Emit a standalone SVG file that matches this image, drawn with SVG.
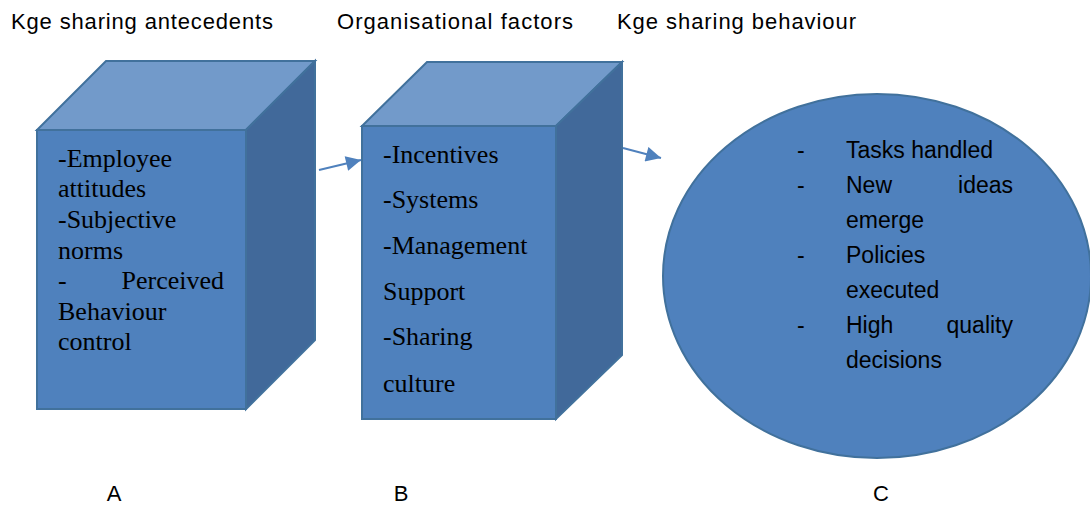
<svg xmlns="http://www.w3.org/2000/svg" width="1090" height="506" viewBox="0 0 1090 506">
<defs>
<style>
.front{fill:#4F81BD;stroke:#41719C;stroke-width:2}
.top{fill:#729ACA;stroke:#41719C;stroke-width:2}
.side{fill:#41699A;stroke:#41719C;stroke-width:2}
.serif{font-family:"Liberation Serif","Times New Roman",serif;font-size:26px;fill:#000}
.sans{font-family:"Liberation Sans",Arial,sans-serif;fill:#000}
.hdr{font-size:22px}
.lbl{font-size:22px}
.circ{font-size:23px}
.conn{stroke:#4F81BD;stroke-width:2;fill:none;marker-end:url(#ah)}
</style>
<marker id="ah" viewBox="0 0 10 10" refX="10" refY="5" markerWidth="9" markerHeight="7.5" markerUnits="strokeWidth" orient="auto">
<path d="M0,0 L10,5 L0,10 z" fill="#4F81BD"/>
</marker>
</defs>
<rect width="1090" height="506" fill="#fff"/>
<g id="headers" class="sans hdr">
<text x="11" y="29" textLength="262">Kge sharing antecedents</text>
<text x="337" y="29" textLength="236">Organisational factors</text>
<text x="617" y="29" textLength="239">Kge sharing behaviour</text>
</g>
<g id="nodeA">
<polygon class="top" points="37,130 106,61 315,61 246,130"/>
<polygon class="side" points="246,130 315,61 315,340 246,409"/>
<rect class="front" x="37" y="130" width="209" height="279"/>
<g class="serif">
<text x="58" y="167">-Employee</text>
<text x="58" y="197">attitudes</text>
<text x="58" y="228">-Subjective</text>
<text x="58" y="259">norms</text>
<text x="58" y="289">-</text>
<text x="224" y="289" text-anchor="end">Perceived</text>
<text x="58" y="320">Behaviour</text>
<text x="58" y="350">control</text>
</g>
</g>
<g id="nodeB">
<polygon class="top" points="362,126 427,62 622,62 556,126"/>
<polygon class="side" points="556,126 622,62 622,355 556,419"/>
<rect class="front" x="362" y="126" width="194" height="293"/>
<g class="serif">
<text x="383" y="163">-Incentives</text>
<text x="383" y="208">-Systems</text>
<text x="383" y="254">-Management</text>
<text x="383" y="300">Support</text>
<text x="383" y="345">-Sharing</text>
<text x="383" y="392">culture</text>
</g>
</g>
<g id="nodeC">
<ellipse cx="877" cy="276" rx="214" ry="182" fill="#4F81BD" stroke="#41719C" stroke-width="2"/>
<g class="sans circ">
<text x="797" y="158">-</text>
<text x="846" y="158">Tasks handled</text>
<text x="797" y="193">-</text>
<text x="846" y="193">New</text>
<text x="1013" y="193" text-anchor="end">ideas</text>
<text x="846" y="228">emerge</text>
<text x="797" y="263">-</text>
<text x="846" y="263">Policies</text>
<text x="846" y="298">executed</text>
<text x="797" y="333">-</text>
<text x="846" y="333">High</text>
<text x="1013" y="333" text-anchor="end">quality</text>
<text x="846" y="368">decisions</text>
</g>
</g>
<g id="connectors">
<line class="conn" x1="319" y1="170" x2="361" y2="160"/>
<line class="conn" x1="623" y1="148" x2="661" y2="158"/>
</g>
<g id="labels" class="sans lbl">
<text x="114" y="501" text-anchor="middle">A</text>
<text x="401" y="501" text-anchor="middle">B</text>
<text x="881" y="501" text-anchor="middle">C</text>
</g>
</svg>
